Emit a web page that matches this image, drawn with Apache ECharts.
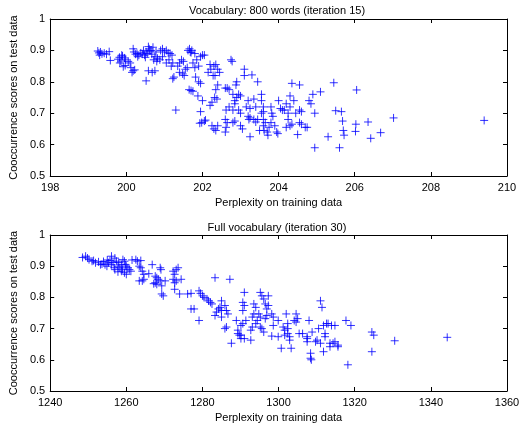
<!DOCTYPE html>
<html>
<head>
<meta charset="utf-8">
<script src="https://cdn.jsdelivr.net/npm/echarts@6/dist/echarts.min.js"></script>
<style>
html, body { margin: 0; padding: 0; background: #fff; }
#panel { width: 529px; height: 424px; }
</style>
</head>
<body>
<div id="panel"></div>
<script>
// titles / axis names
var titles = ['Vocabulary: 800 words (iteration 15)', 'Full vocabulary (iteration 30)'];
var xName = 'Perplexity on training data';
var yName = 'Cooccurrence scores on test data';

// axis ranges
var topX = [198, 210, 2];
var fullX = [1240, 1360, 20];
var scoreY = [0.5, 1, 0.1];

// [perplexity, score]
var vocab800Data = [
    [199.25,0.898],[199.28,0.892],[199.32,0.895],[199.36,0.889],[199.42,0.891],[199.48,0.888],[199.55,0.896],[199.3,0.885],[199.58,0.868],
    [199.78,0.872],[199.82,0.878],[199.86,0.866],[199.9,0.882],[199.95,0.876],[199.98,0.87],[199.83,0.86],[199.92,0.848],[199.97,0.852],
    [200.05,0.865],[200.1,0.86],[200.12,0.845],[200.18,0.835],[200.15,0.83],[200.22,0.838],[199.88,0.885],
    [200.18,0.905],[200.2,0.895],[200.24,0.888],[200.28,0.89],[200.3,0.88],[200.33,0.885],[200.38,0.892],[200.42,0.888],[200.45,0.9],
    [200.48,0.885],[200.5,0.878],[200.52,0.895],[200.55,0.89],[200.58,0.912],[200.6,0.905],[200.62,0.898],[200.65,0.9],[200.67,0.888],
    [200.7,0.91],[200.72,0.87],[200.75,0.88],[200.78,0.895],[200.8,0.865],[200.82,0.875],[200.68,0.83],[200.75,0.835],[200.58,0.835],[200.52,0.803],
    [200.9,0.9],[200.95,0.905],[201.0,0.895],[201.05,0.9],[201.1,0.892],[201.15,0.89],[201.2,0.885],[200.88,0.87],[200.95,0.88],[201.12,0.87],
    [201.18,0.85],[201.22,0.86],[201.05,0.86],[201.25,0.815],[201.22,0.81],[201.3,0.71],[201.35,0.85],[201.4,0.86],[201.45,0.87],[201.5,0.865],
    [201.4,0.83],[201.48,0.825],[201.52,0.82],[201.6,0.845],[201.55,0.84],
    [201.62,0.9],[201.66,0.905],[201.68,0.895],[201.72,0.9],[201.7,0.893],
    [201.8,0.89],[201.85,0.87],[201.75,0.86],[201.8,0.845],[201.9,0.85],[201.95,0.88],[202.0,0.885],[202.05,0.885],[201.65,0.775],[201.7,0.772],
    [201.75,0.77],[201.9,0.8],[201.95,0.795],[201.82,0.815],[201.88,0.755],[201.95,0.705],[202.0,0.74],[201.98,0.67],[201.93,0.668],[202.05,0.675],[202.08,0.678],
    [202.2,0.855],[202.15,0.83],[202.22,0.84],[202.3,0.85],[202.35,0.855],[202.4,0.84],[202.45,0.83],[202.28,0.82],[202.33,0.82],[202.4,0.79],
    [202.35,0.775],[202.32,0.75],[202.38,0.745],[202.25,0.735],[202.2,0.725],[202.3,0.65],[202.25,0.66],[202.35,0.645],[202.4,0.66],
    [202.6,0.78],[202.65,0.78],[202.7,0.775],[202.75,0.87],[202.78,0.865],[202.8,0.76],[202.85,0.74],[202.9,0.8],[202.88,0.79],[202.62,0.71],
    [202.7,0.72],[202.6,0.68],[202.65,0.67],[202.6,0.64],[202.62,0.655],[202.8,0.71],[202.85,0.73],[202.9,0.75],[202.95,0.76],[203.0,0.755],
    [202.8,0.67],[202.85,0.675],[202.95,0.71],[203.0,0.7],[203.05,0.65],[203.0,0.66],[203.1,0.84],[203.1,0.82],[203.15,0.72],[203.2,0.74],
    [203.25,0.715],[203.2,0.69],[203.25,0.685],[203.22,0.68],[203.25,0.625],[203.3,0.822],[203.35,0.745],[203.4,0.72],[203.45,0.8],[203.35,0.68],
    [203.4,0.672],[203.45,0.68],[203.5,0.645],
    [203.55,0.76],[203.55,0.74],[203.6,0.72],[203.55,0.7],[203.6,0.705],[203.6,0.68],[203.65,0.67],[203.6,0.66],[203.62,0.645],[203.7,0.64],
    [203.72,0.63],[203.75,0.655],[203.8,0.72],[203.82,0.7],[203.85,0.69],[203.8,0.67],[203.9,0.66],[203.95,0.64],[203.98,0.635],[204.0,0.74],
    [204.05,0.715],[204.1,0.71],[204.15,0.71],[204.2,0.73],[204.25,0.7],[204.3,0.72],[204.25,0.68],[204.2,0.655],[204.3,0.66],[204.35,0.665],
    [204.35,0.795],[204.3,0.755],[204.4,0.74],[204.45,0.7],[204.55,0.79],[204.55,0.71],[204.6,0.705],[204.55,0.67],[204.6,0.665],[204.5,0.632],
    [204.7,0.655],[204.75,0.655],[204.8,0.74],[204.85,0.73],[204.9,0.76],[204.95,0.7],[204.95,0.59],[205.1,0.768],[205.3,0.625],[205.45,0.797],
    [205.5,0.708],[205.6,0.59],[205.65,0.705],[205.68,0.675],[205.7,0.645],[205.72,0.63],[206.05,0.774],[206.03,0.665],[206.02,0.642],
    [206.35,0.672],[206.42,0.62],[206.68,0.638],[207.02,0.685],[209.4,0.677]
];

var fullVocabData = [
    [1248.5,0.928],[1249.3,0.932],[1249.8,0.926],[1250.2,0.921],[1251.0,0.916],[1251.4,0.918],[1251.9,0.911],[1252.7,0.914],[1253.2,0.905],
    [1253.6,0.907],[1254.0,0.915],[1254.4,0.905],[1254.9,0.9],[1255.3,0.911],[1255.7,0.918],[1256.1,0.932],[1256.1,0.905],[1257.0,0.926],
    [1257.4,0.916],[1257.8,0.9],[1258.3,0.895],[1258.7,0.905],[1259.1,0.921],[1259.5,0.916],[1260,0.9],[1260.4,0.895],[1260.8,0.889],
    [1259.5,0.879],[1258.7,0.884],[1257.8,0.882],[1257.0,0.889],[1260,0.874],[1261.2,0.884],[1262.5,0.921],[1262.9,0.916],[1263.8,0.918],
    [1263.4,0.9],[1263.8,0.895],[1264.2,0.884],[1264.6,0.874],[1264.2,0.853],[1263.4,0.853],[1264.6,0.858],[1256.5,0.912],[1258.0,0.912],
    [1255.0,0.92],[1259.8,0.905],[1261.5,0.92],[1256.8,0.895],[1259.0,0.89],
    [1266.8,0.905],[1265.9,0.876],[1267.6,0.868],[1268,0.863],[1268.4,0.858],[1267.6,0.847],[1267.2,0.844],[1268,0.842],[1268.9,0.895],
    [1269.1,0.889],[1268.9,0.853],[1269.3,0.837],[1269.3,0.811],[1269.7,0.805],[1270.2,0.853],
    [1272.3,0.884],[1272.7,0.874],[1273.1,0.889],[1273.6,0.895],[1272.3,0.858],[1272.7,0.847],[1273.1,0.853],[1274.4,0.858],[1272.7,0.826],
    [1274,0.811],[1276.1,0.811],[1277,0.813],[1277,0.763],[1277.8,0.763],[1279.1,0.821],[1279.5,0.813],[1280,0.805],[1279.1,0.726],
    [1280.4,0.8],[1281.2,0.795],[1281.6,0.789],[1282.1,0.784],[1282.5,0.779],[1283.3,0.863],[1287.2,0.858],
    [1283.3,0.742],[1283.7,0.753],[1284.2,0.763],[1284.6,0.768],[1285,0.758],[1285,0.737],[1285,0.789],[1285.9,0.774],[1286.3,0.758],
    [1286.7,0.747],[1285.9,0.7],[1286.3,0.705],[1287.6,0.653],[1288.9,0.726],[1289.3,0.695],[1289.3,0.684],[1289.7,0.679],[1290.1,0.679],
    [1290.6,0.784],[1291,0.774],[1290.6,0.758],[1291,0.816],[1290.1,0.71],[1290.6,0.716],[1291.4,0.726],[1291,0.668],[1290.1,0.668],
    [1292.7,0.695],[1293.1,0.705],[1293.1,0.737],[1293.5,0.747],[1292.7,0.663],[1293.5,0.779],[1294,0.768],[1294,0.716],[1294.4,0.726],
    [1294.8,0.747],[1295.2,0.737],[1295.2,0.816],[1295.6,0.805],[1296.1,0.795],[1295.2,0.705],[1295.6,0.7],[1296.1,0.689],[1296.5,0.779],
    [1296.9,0.763],[1296.9,0.742],[1296.5,0.732],[1297.3,0.774],[1297.3,0.805],[1298.2,0.747],[1298.6,0.737],[1298.6,0.71],[1298.2,0.676],
    [1299.9,0.674],[1299.9,0.726],[1300.7,0.637],[1301.2,0.705],[1301.6,0.695],[1301.6,0.679],[1302,0.747],[1302.4,0.716],[1302.4,0.7],
    [1302.9,0.663],[1303.3,0.637],[1302.4,0.684],[1302.9,0.674],[1304.1,0.726],[1304.6,0.747],[1305,0.732],[1304.6,0.721],[1305.4,0.684],
    [1306.3,0.684],[1307.5,0.674],[1307.5,0.668],[1307.5,0.658],[1308,0.726],[1308.4,0.621],[1308.4,0.605],[1308.6,0.6],[1308.8,0.689],
    [1309.7,0.658],[1310.1,0.663],[1311,0.653],[1310.5,0.7],[1311,0.789],[1311.4,0.768],[1311.8,0.71],[1312.2,0.684],[1312.2,0.674],
    [1311.8,0.626],[1312.6,0.716],[1313,0.716],[1313.5,0.642],[1313.5,0.653],[1313.9,0.71],[1314.8,0.71],[1314.3,0.653],[1314.8,0.658],
    [1315.6,0.647],[1315.6,0.642],[1317.7,0.726],[1319,0.71],[1318.2,0.584],[1324.5,0.689],[1325,0.679],[1324.5,0.626],[1330.5,0.661],
    [1344.3,0.672]
];

var plusMark = 'path://M0,5L10,5M5,0L5,10';
var myChart;

function scoreLabel(v)
{
    return String(+v.toFixed(1));
}

function plainLabel(v)
{
    return String(v);
}

// tiny stand-in for jQuery extend (no network for jQuery)
var $ = {
    extend: function (deep, target)
    {
        for (var i = 2; i < arguments.length; i++)
        {
            var src = arguments[i];
            for (var k in src)
            {
                var v = src[k];
                if (v && typeof v === 'object' && !Array.isArray(v) && typeof v !== 'function')
                    target[k] = $.extend(true, target[k] && typeof target[k] === 'object' ? target[k] : {}, v);
                else target[k] = v;
            }
        }
        return target;
    }
};

function makeXAxes(grid, range)
{
    var base = {
        gridIndex: grid,
        type: 'value',
        min: range[0],
        max: range[1],
        interval: range[2],
        axisLine: { show: true, onZero: false, lineStyle: { color: '#000', width: 1 } },
        axisTick: { show: true, inside: true, length: 4, lineStyle: { color: '#000' } },
        splitLine: { show: false }
    };
    var bottom = $.extend(true, {}, base, {
        position: 'bottom',
        name: xName,
        nameLocation: 'middle',
        nameGap: 21,
        nameTextStyle: { color: '#000', fontSize: 11, fontFamily: 'Liberation Sans' },
        axisLabel: { color: '#000', fontSize: 11, fontFamily: 'Liberation Sans', margin: 6, formatter: plainLabel }
    });
    var top = $.extend(true, {}, base, { position: 'top', axisLabel: { show: false } });
    return [bottom, top];
}

function makeYAxes(grid)
{
    var base = {
        gridIndex: grid,
        type: 'value',
        min: scoreY[0],
        max: scoreY[1],
        interval: scoreY[2],
        axisLine: { show: true, onZero: false, lineStyle: { color: '#000', width: 1 } },
        axisTick: { show: true, inside: true, length: 4, lineStyle: { color: '#000' } },
        splitLine: { show: false }
    };
    var left = $.extend(true, {}, base, {
        position: 'left',
        name: yName,
        nameLocation: 'middle',
        nameGap: 27,
        nameTextStyle: { color: '#000', fontSize: 11, fontFamily: 'Liberation Sans' },
        axisLabel: { color: '#000', fontSize: 11, fontFamily: 'Liberation Sans', margin: 5, formatter: scoreLabel }
    });
    var right = $.extend(true, {}, base, { position: 'right', axisLabel: { show: false } });
    return [left, right];
}

function scatter(idx, data)
{
    return {
        type: 'scatter',
        xAxisIndex: idx * 2,
        yAxisIndex: idx * 2,
        data: data,
        symbol: plusMark,
        symbolSize: 8,
        silent: true,
        itemStyle: { color: 'none', borderColor: 'rgba(0,0,255,0.8)', borderWidth: 1, opacity: 1 }
    };
}

myChart = echarts.init(document.getElementById('panel'));
myChart.setOption(
{
    backgroundColor: '#fff',
    animation: false,
    textStyle: { fontFamily: 'Liberation Sans' },
    title: [
        { text: titles[0], left: 272, top: 0, textAlign: 'center',
          textStyle: { fontSize: 11, fontWeight: 'normal', color: '#000', fontFamily: 'Liberation Sans' } },
        { text: titles[1], left: 272, top: 217, textAlign: 'center',
          textStyle: { fontSize: 11, fontWeight: 'normal', color: '#000', fontFamily: 'Liberation Sans' } }
    ],
    grid: [
        { left: 37, right: 22, top: 19, height: 157 },
        { left: 37, right: 22, top: 235, height: 159 }
    ],
    xAxis: makeXAxes(0, topX).concat(makeXAxes(1, fullX)),
    yAxis: makeYAxes(0).concat(makeYAxes(1)),
    series: [scatter(0, vocab800Data), scatter(1, fullVocabData)]
});
</script>
</body>
</html>
